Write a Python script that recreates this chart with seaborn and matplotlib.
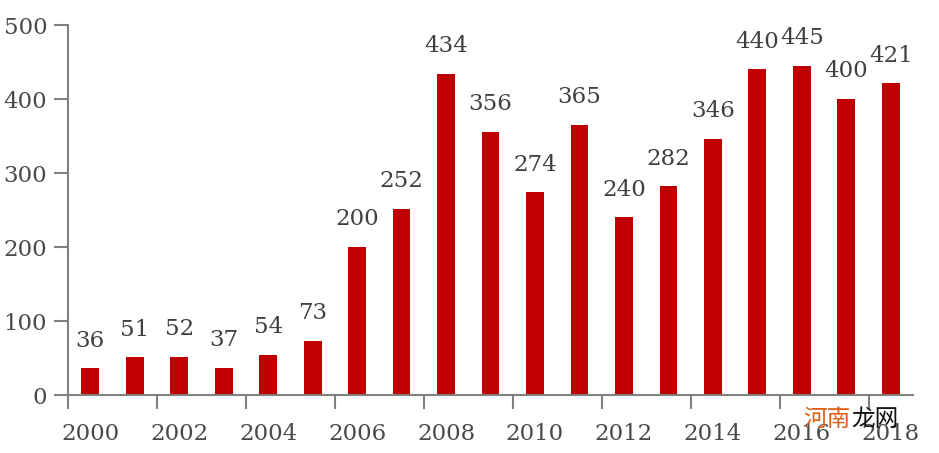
import matplotlib
matplotlib.use("Agg")
import matplotlib.pyplot as plt
import seaborn as sns
import pandas as pd
import numpy as np

years = [str(y) for y in range(2000, 2019)]
values = [36, 51, 52, 37, 54, 73, 200, 252, 434, 356, 274, 365, 240, 282, 346, 440, 445, 400, 421]
yticks = [0, 100, 200, 300, 400, 500]

sns.set_theme(style="white")
plt.rcParams['font.family'] = ['DejaVu Serif']

df = pd.DataFrame({"year": years, "value": values})

fig = plt.figure(figsize=(9.39, 4.53), dpi=100)
ax = fig.add_axes([68/939, 1-395/453, (913-68)/939, (395-25)/453])
sns.barplot(data=df, x="year", y="value", color="#C00000", width=0.4,
            saturation=1, ax=ax, edgecolor="none")

ax.set_xlim(-0.5, len(years)-0.5)
ax.set_ylim(0, 500)
ax.set_xlabel("")
ax.set_ylabel("")

# y ticks
ax.set_yticks(yticks)
ax.set_yticklabels([str(v) for v in yticks], fontsize=16.5, color="#4a4a4a")
# x: labels at every other bar, tick marks at boundaries
ax.set_xticks(np.arange(0, len(years), 2))
ax.set_xticklabels(years[::2], fontsize=16.5, color="#4a4a4a")
ax.tick_params(axis="x", which="major", bottom=True, length=0, pad=20)
ax.set_xticks(np.arange(-0.5, len(years)-1, 2), minor=True)
ax.tick_params(axis="x", which="minor", bottom=True, length=10, width=1.5,
               color="#808080", direction="out")
ax.tick_params(axis="y", which="major", left=True, length=10, width=1.5,
               color="#808080", direction="out", pad=5)

for s in ["top", "right"]:
    ax.spines[s].set_visible(False)
for s in ["left", "bottom"]:
    ax.spines[s].set_color("#808080")
    ax.spines[s].set_linewidth(1.5)

for c in ax.containers:
    ax.bar_label(c, labels=[str(v) for v in values], padding=12, fontsize=16.5, color="#404040")

fig.text(803/939, 1-419/453, "河南", fontsize=17, color="#E0601A",
         family=["Noto Sans CJK SC", "DejaVu Sans"], va="center", ha="left")
fig.text(851/939, 1-419/453, "龙网", fontsize=17, color="#111111",
         family=["Noto Sans CJK SC", "DejaVu Sans"], va="center", ha="left")

fig.savefig("out.png", dpi=100)
